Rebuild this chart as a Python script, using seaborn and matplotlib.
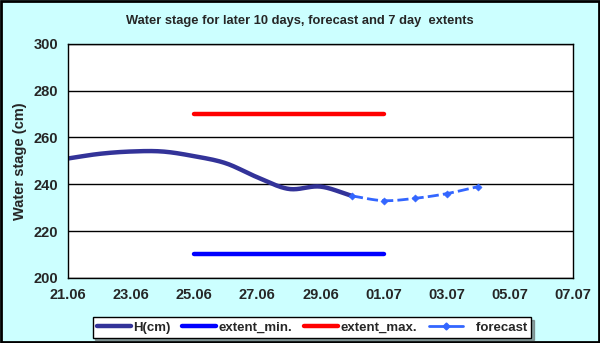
import numpy as np
import pandas as pd
import matplotlib
matplotlib.use("Agg")
import matplotlib.pyplot as plt
import matplotlib.dates as mdates
from matplotlib.patches import Rectangle
from matplotlib.lines import Line2D
import seaborn as sns

# ---- data ----
h_dates = ["2023-06-21", "2023-06-22", "2023-06-23", "2023-06-24", "2023-06-25",
           "2023-06-26", "2023-06-27", "2023-06-28", "2023-06-29", "2023-06-30"]
h_values = [251, 253, 254, 254, 252, 249, 243, 238, 239, 235]
fc_dates = ["2023-06-30", "2023-07-01", "2023-07-02", "2023-07-03", "2023-07-04"]
fc_values = [235, 233, 234, 236, 239]
ext_dates = ["2023-06-25", "2023-07-01"]
ext_min = [210, 210]
ext_max = [270, 270]
xtick_labels = ["21.06", "23.06", "25.06", "27.06", "29.06", "01.07", "03.07", "05.07", "07.07"]


def smooth(dates, vals, n=20):
    """Catmull-Rom rendering of the line (like Excel's smoothed line)."""
    x = mdates.date2num(pd.to_datetime(dates))
    y = np.asarray(vals, float)
    px = np.concatenate([[2 * x[0] - x[1]], x, [2 * x[-1] - x[-2]]])
    py = np.concatenate([[2 * y[0] - y[1]], y, [2 * y[-1] - y[-2]]])
    xs, ys = [], []
    for i in range(1, len(px) - 2):
        t = np.linspace(0, 1, n, endpoint=False)
        for arr, out in ((px, xs), (py, ys)):
            p0, p1, p2, p3 = arr[i - 1], arr[i], arr[i + 1], arr[i + 2]
            out.extend(0.5 * ((2 * p1) + (-p0 + p2) * t + (2 * p0 - 5 * p1 + 4 * p2 - p3) * t ** 2
                              + (-p0 + 3 * p1 - 3 * p2 + p3) * t ** 3))
    xs.append(x[-1]); ys.append(y[-1])
    return pd.DataFrame({"x": mdates.num2date(xs), "y": ys})


sns.set_style("white")
plt.rcParams["font.family"] = ["Liberation Sans", "DejaVu Sans"]

fig = plt.figure(figsize=(6, 3.43), dpi=100)
fig.patch.set_facecolor("#CCFFFF")
ax = fig.add_axes([0.113, 0.19, 0.842, 0.682])
ax.set_facecolor("white")

hdf = smooth(h_dates, h_values)
sns.lineplot(data=hdf, x="x", y="y", ax=ax, color="#333399", lw=3.2,
             sort=False, estimator=None)
edf = pd.DataFrame({"x": pd.to_datetime(ext_dates), "mn": ext_min, "mx": ext_max})
sns.lineplot(data=edf, x="x", y="mn", ax=ax, color="#0000FF", lw=3.2)
sns.lineplot(data=edf, x="x", y="mx", ax=ax, color="#FF0000", lw=3.2)
fdf = smooth(fc_dates, fc_values)
sns.lineplot(data=fdf, x="x", y="y", ax=ax, color="#3366FF", lw=2, ls=(0, (4, 1.5)),
             sort=False, estimator=None)
fpts = pd.DataFrame({"x": pd.to_datetime(fc_dates), "y": fc_values})
sns.scatterplot(data=fpts, x="x", y="y", ax=ax, color="#3366FF", marker="D", s=14,
                edgecolor="#3366FF", zorder=5)

ax.set_xlim(pd.Timestamp("2023-06-21"), pd.Timestamp("2023-07-07"))
ax.set_ylim(200, 300)
ax.set_yticks([200, 220, 240, 260, 280, 300])
ax.xaxis.set_minor_locator(mdates.DayLocator())
ax.set_xticks(pd.date_range("2023-06-21", "2023-07-07", freq="2D"))
ax.set_xticklabels(xtick_labels)
ax.tick_params(axis="x", which="major", length=5, width=1, color="black", direction="out", pad=2)
ax.tick_params(axis="x", which="minor", length=5, width=1, color="black", direction="out")
ax.tick_params(axis="y", length=5, width=1, color="black", direction="out", pad=2)
for lab in ax.get_xticklabels() + ax.get_yticklabels():
    lab.set_fontweight("bold")
    lab.set_fontsize(10.5)
ax.grid(axis="y", color="black", lw=1)
ax.set_axisbelow(True)
for s in ax.spines.values():
    s.set_color("black"); s.set_linewidth(1); s.set_visible(True)
ax.set_xlabel("")
ax.set_ylabel("Water stage (cm)", fontsize=10.5, fontweight="bold", labelpad=5)

fig.suptitle("Water stage for later 10 days, forecast and 7 day  extents", x=0.5, y=0.955,
             fontsize=9.3, fontweight="bold")

handles = [Line2D([], [], color="#333399", lw=3.2),
           Line2D([], [], color="#0000FF", lw=3.2),
           Line2D([], [], color="#FF0000", lw=3.2),
           Line2D([], [], color="#3366FF", lw=2, marker="D", ms=3.5)]
leg = fig.legend(handles, ["H(cm)", "extent_min.", "extent_max.", "   forecast"],
                 loc="center", bbox_to_anchor=(0.52, 0.045), ncol=4, frameon=True,
                 fancybox=False, shadow=True, fontsize=9.5, handlelength=2.6,
                 handletextpad=0.15, columnspacing=0.9, borderpad=0.3, edgecolor="black")
leg.get_frame().set_linewidth(1)
for t in leg.get_texts():
    t.set_fontweight("bold")

fig.add_artist(Rectangle((0.002, 0.003), 0.996, 0.994, transform=fig.transFigure,
                         fill=False, edgecolor="black", lw=2))
fig.savefig("out.png", dpi=100, facecolor=fig.get_facecolor())
